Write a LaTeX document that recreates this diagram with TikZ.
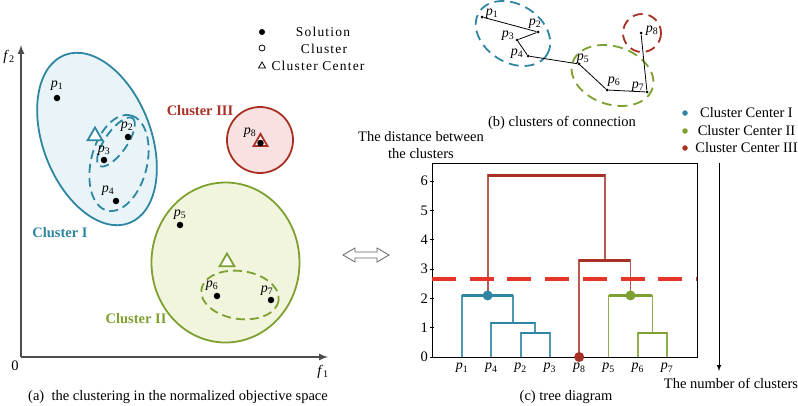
\documentclass[tikz,border=0pt]{standalone}
\usepackage{fontspec}
\setmainfont{Liberation Serif}
\usepackage{xcolor}
\usepackage{tikz}
\usetikzlibrary{arrows,shapes,positioning}

\definecolor{cteal}{RGB}{46,134,163}
\definecolor{ctealfill}{RGB}{232,244,248}
\definecolor{cred}{RGB}{168,48,36}
\definecolor{credfill}{RGB}{248,225,224}
\definecolor{cgreen}{RGB}{126,160,48}
\definecolor{cgreenfill}{RGB}{241,245,222}
\definecolor{cdash}{RGB}{232,52,40}

\newcommand{\pl}[1]{\textit{p}\textsubscript{#1}}

\tikzset{
	txt/.style = {font=\fontsize{14.5}{17}\selectfont, inner sep=1pt},
	plbl/.style = {font=\fontsize{14}{16}\selectfont, inner sep=0pt},
	legtxt/.style = {font=\fontsize{13.5}{15}\selectfont\addfontfeatures{LetterSpace=9}, inner sep=0pt},
	cname/.style = {font=\fontsize{14.5}{17}\selectfont\bfseries, inner sep=0pt},
	sol/.style = {circle, fill=black, inner sep=0pt, minimum size=6.5pt},
	link/.style = {circle, fill=black, inner sep=0pt, minimum size=3pt},
	ctr/.style = {regular polygon, regular polygon sides=3, fill=white, line width=1.8pt, inner sep=0pt, minimum size=17pt},
	axis/.style = {-latex, line width=2pt, draw=black!70},
	region/.style = {line width=1.8pt},
	ring/.style = {line width=1.8pt, dash pattern=on 9pt off 5pt},
	bar/.style = {line width=2.6pt, line cap=square},
	stem/.style = {line width=1.8pt},
	hub/.style = {circle, inner sep=0pt, minimum size=10pt},
	legdot/.style = {circle, inner sep=0pt, minimum size=5.5pt},
	cutline/.style = {cdash, line width=3.5pt, dash pattern=on 24pt off 13.7pt}
}

\begin{document}
\begin{tikzpicture}[x=1pt, y=-1pt, >=latex]
	\useasboundingbox (0,0) rectangle (798,405);
	
	% (a) objective space
	\coordinate (o) at (21,357);
	\coordinate (xend) at (328,357);
	\coordinate (yend) at (21,45);
	\draw[axis] (o) -- (xend);
	\draw[axis] (o) -- (yend);
	\node[txt] (zero) at (15,366) {0};
	\node[txt] (f1) at (323,372) {\textit{f}\textsubscript{1}};
	\node[txt] (f2) at (9,57) {\textit{f}\textsubscript{2}};
	
	\draw[region, cteal, fill=ctealfill] (97,139) ellipse [x radius=90, y radius=54, rotate=-69];
	\draw[region, cred, fill=credfill] (260,140) circle [radius=33];
	\draw[region, cgreen, fill=cgreenfill] (225.5,262.5) ellipse [x radius=74, y radius=80];
	\draw[ring, cteal] (116,142) ellipse [x radius=29, y radius=11, rotate=55];
	\draw[ring, cteal] (119,163) ellipse [x radius=49, y radius=28, rotate=76];
	\draw[ring, cgreen] (240,295) ellipse [x radius=39, y radius=24, rotate=-8];
	
	\node[ctr, draw=cteal] (c1) at (95,136) {};
	\node[ctr, draw=cgreen] (c2) at (227,262) {};
	\node[ctr, draw=cred, minimum size=16pt] (c3) at (260.5,142) {};
	
	\foreach \i/\xx/\yy/\lx/\ly in {1/57/98/57/86, 2/128/137/127/127, 3/104/160/104/151,
		4/116/201/108/191, 5/180/225/180/215, 6/217/296/212/286, 7/271/300/267/291, 8/260.5/143/250/133}
	{
		\node[sol] (a\i) at (\xx,\yy) {};
		\node[plbl] (la\i) at (\lx,\ly) {\pl{\i}};
	}
	
	\node[cname, text=cteal] (n1) at (60,233) {Cluster I};
	\node[cname, text=cgreen] (n2) at (136,319) {Cluster II};
	\node[cname, text=cred] (n3) at (200,111) {Cluster III};
	
	% legend of the markers
	\node[sol, minimum size=6pt] (ks) at (262,32) {};
	\node[circle, draw, line width=.8pt, inner sep=0pt, minimum size=6pt] (kc) at (262,48) {};
	\node[regular polygon, regular polygon sides=3, draw, line width=.8pt, inner sep=0pt, minimum size=8pt] (kt) at (262,66) {};
	\node[legtxt] (ls) at (323,32) {Solution};
	\node[legtxt] (lc) at (324,49) {Cluster};
	\node[legtxt] (lt) at (318,66) {Cluster Center};
	
	\node[txt] (capa) at (178,397) {(a)\ \ the clustering in the normalized objective space};
	
	% the two views are equivalent
	\draw[black!60, line width=.8pt, line join=miter] (343,255) -- (355,248) -- (355,252) -- (377,252) -- (377,248)
		-- (389,255) -- (377,262) -- (377,258) -- (355,258) -- (355,262) -- cycle;
	
	% (b) connection of the solutions
	\draw[ring, cteal, dash pattern=on 10pt off 6pt] (513,33.5) ellipse [x radius=40, y radius=29, rotate=-32];
	\draw[ring, cgreen, dash pattern=on 10pt off 6pt] (612.5,75.5) ellipse [x radius=42, y radius=29, rotate=-18];
	\draw[ring, cred, dash pattern=on 10pt off 6pt] (642,33) circle [radius=19];
	
	\foreach \i/\xx/\yy/\lx/\ly in {1/482/17/492/14, 2/538/32/535/24, 3/517/40/508/36, 4/528/56/517/54,
		5/579/64/583/59, 6/607/90/614/82, 7/647/92/638/87, 8/641/33/652/31}
	{
		\node[link] (b\i) at (\xx,\yy) {};
		\node[plbl] (lb\i) at (\lx,\ly) {\pl{\i}};
	}
	\foreach \i/\j in {1/2,2/3,3/4,4/5,5/6,6/7,7/8}
	\draw[line width=.8pt] (b\i) -- (b\j);
	
	\node[txt] (capb) at (562,123) {(b) clusters of connection};
	
	% legend of the cluster centers
	\foreach \c/\t/\yy in {cteal/I/113, cgreen/II/131, cred/III/148}
	{
		\node[legdot, fill=\c] (g\t) at (685,\yy) {};
		\node[txt] (gt\t) at (746.5,\yy) {Cluster Center \t};
	}
	
	% (c) tree diagram
	\node[txt, align=center] (ytitle) at (421,145.5) {The distance between\\the clusters};
	\coordinate (ntop) at (719,163);
	\coordinate (nbot) at (719,371);
	\draw[-latex, line width=1pt] (ntop) -- (nbot);
	\node[txt] (nlab) at (731,383) {The number of clusters};
	\node[txt] (capc) at (566,397) {(c) tree diagram};
	
	\begin{scope}[shift={(0,357)}, x=1pt, y={(0pt,29.3pt)}]
		\draw[line width=1pt] (432,0) rectangle (697,6.62);
		\foreach \h in {0,...,6}
		{
			\draw[line width=.8pt] (432,\h) ++(-2,0) -- ++(4,0);
			\node[txt, anchor=east] (tk\h) at (429,\h) {\h};
		}
		
		% leaves
		\foreach \n [count=\k] in {1,4,2,3,8,5,6,7}
		{
			\coordinate (d\n) at ({432.7+29.3*\k},0);
			\node[plbl] (ld\n) at ({432.7+29.3*\k},-0.38) {\pl{\n}};
		}
		
		% merges
		\coordinate (m23) at (535.25,0.82);
		\coordinate (m4) at (513.28,1.16);
		\coordinate (mA) at (487.64,2.1);
		\coordinate (m67) at (652.45,0.82);
		\coordinate (mB) at (630.48,2.1);
		\coordinate (m8) at (604.84,3.3);
		\coordinate (mtop) at (546.24,6.2);
		
		\draw[stem, cteal!85] (d2) |- (m23) -| (d3);
		\draw[stem, cteal!85] (d4) |- (m4) -| (m23);
		\draw[stem, cteal!85] (d1) |- (mA) -| (m4);
		\draw[stem, cgreen!85] (d6) |- (m67) -| (d7);
		\draw[stem, cgreen!85] (d5) |- (mB) -| (m67);
		\draw[stem, cred!80] (d8) |- (m8) -| (mB);
		\draw[stem, cred!80] (mA) |- (mtop) -| (m8);
		
		\foreach \l/\r/\m/\c in {d2/d3/m23/cteal, d4/m23/m4/cteal, d1/m4/mA/cteal,
			d6/d7/m67/cgreen, d5/m67/mB/cgreen, d8/mB/m8/cred, mA/m8/mtop/cred}
		\draw[bar, \c] (\l |- \m) -- (\r |- \m);
		
		% cut of the tree
		\coordinate (cl) at (432,2.66);
		\coordinate (cr) at (697,2.66);
		\draw[cutline] (cl) -- (cr);
		
		\node[hub, fill=cteal] (hA) at (mA) {};
		\node[hub, fill=cgreen] (hB) at (mB) {};
		\node[hub, fill=cred] (h8) at (d8) {};
	\end{scope}
\end{tikzpicture}
\end{document}
